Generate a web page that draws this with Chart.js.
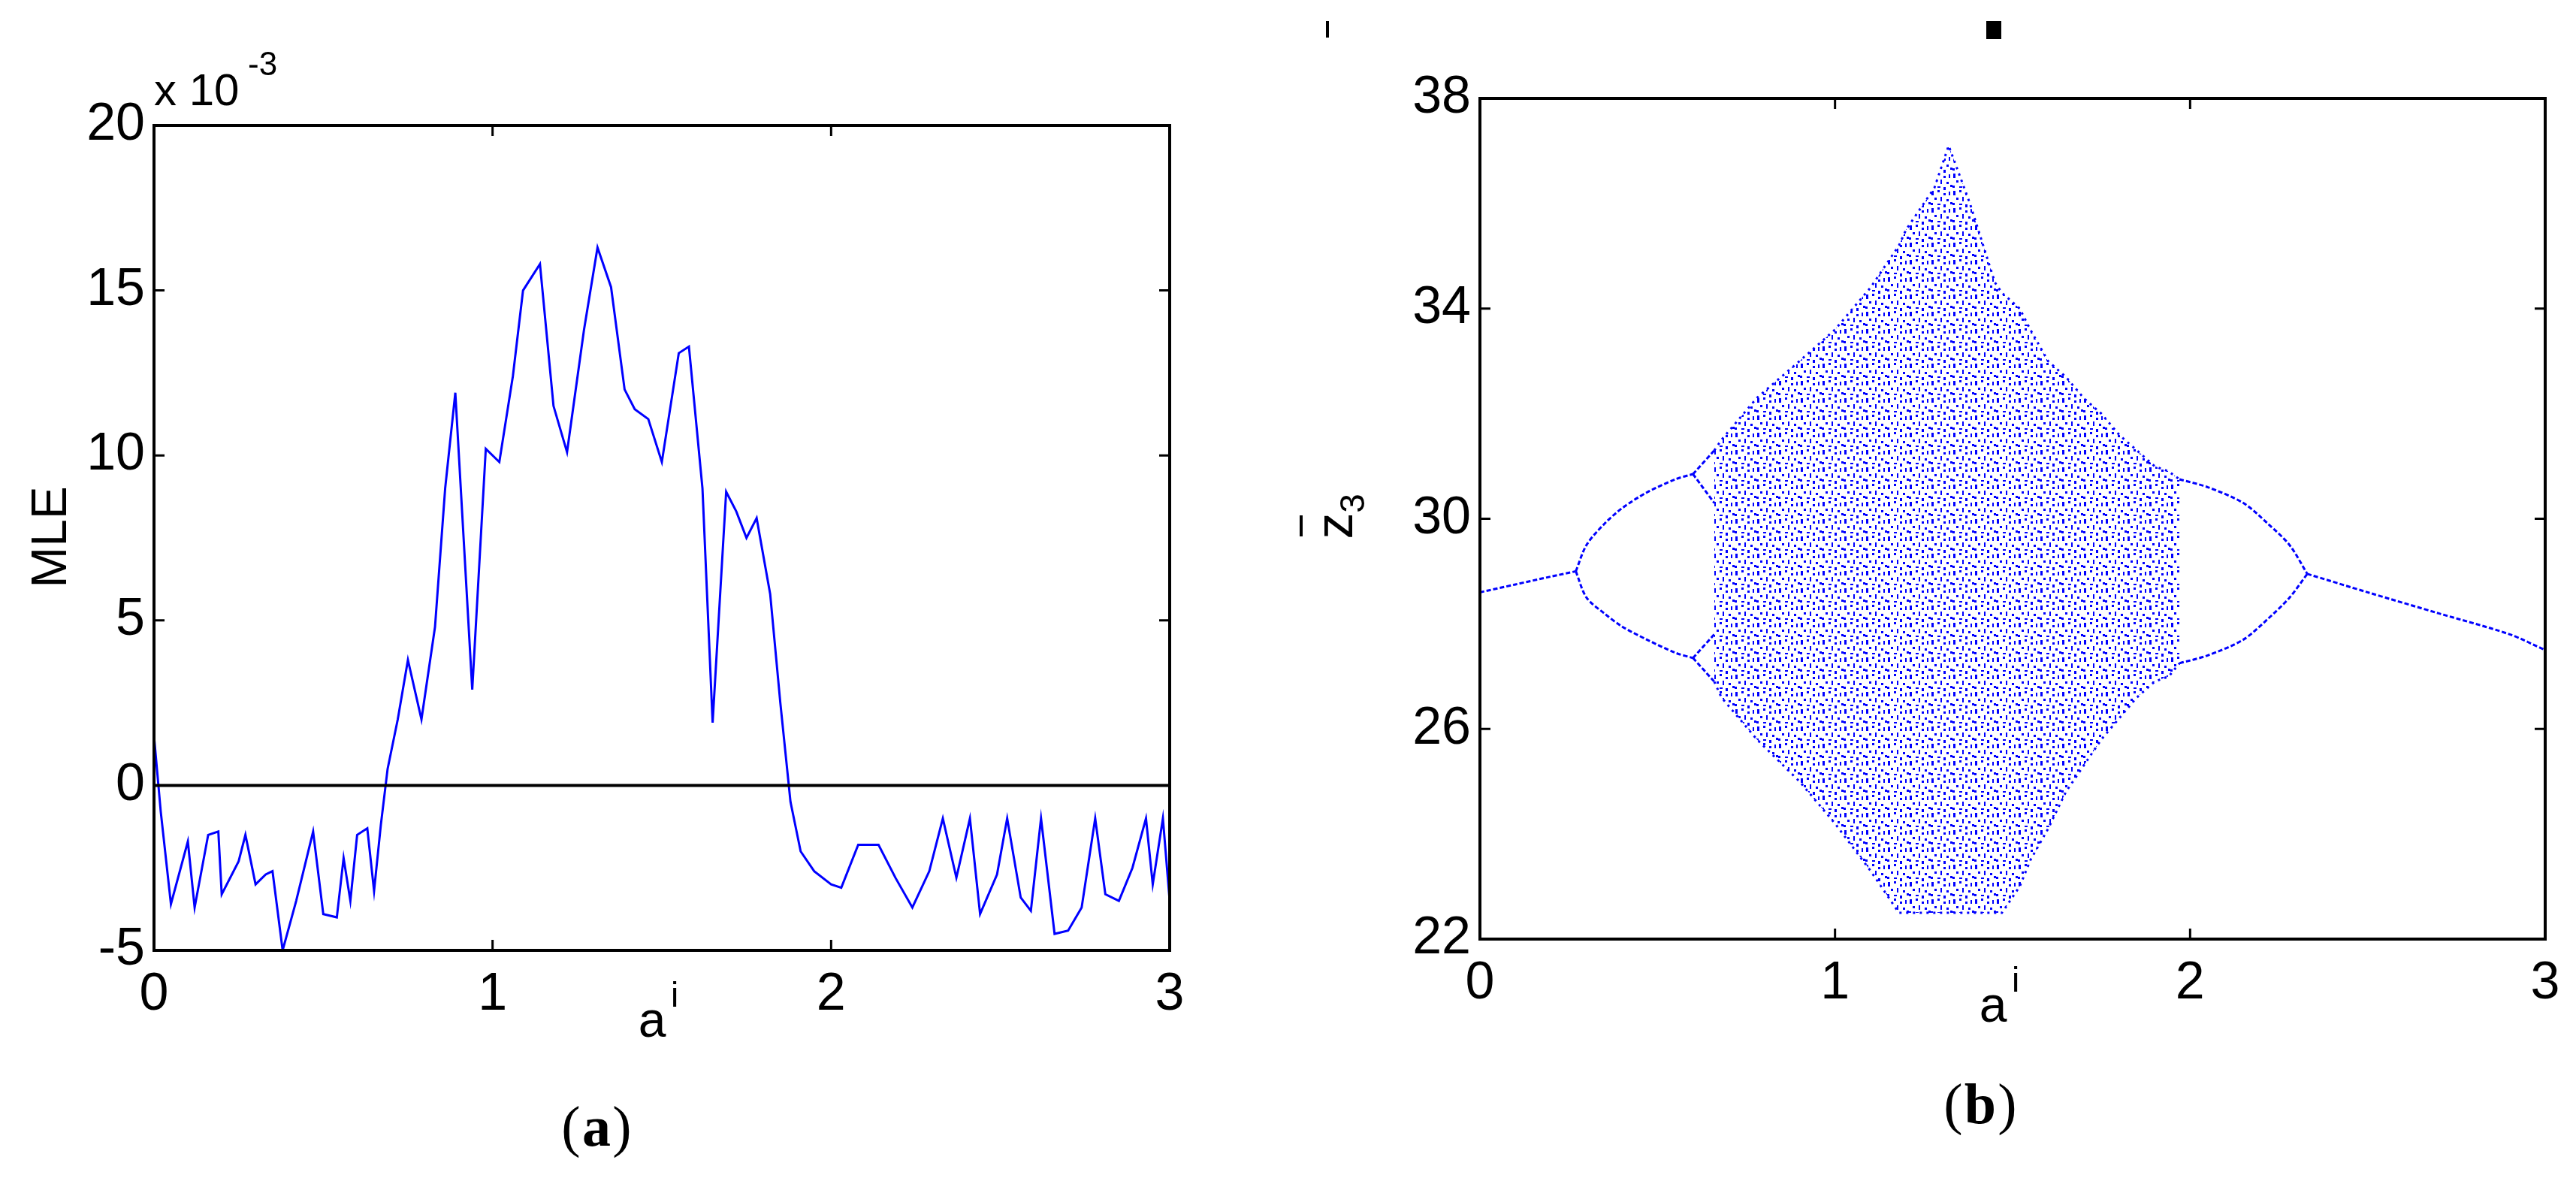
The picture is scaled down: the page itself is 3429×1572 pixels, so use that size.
<!DOCTYPE html>
<html>
<head>
<meta charset="utf-8">
<script src="https://cdn.jsdelivr.net/npm/chart.js"></script>
<style>
  body { margin: 0; background: #fff; width: 3429px; height: 1572px; position: relative; overflow: hidden; }
  canvas { position: absolute; }
  #cA { left: 0; top: 0; }
  #cB { left: 1700px; top: 0; }
</style>
</head>
<body>
<canvas id="cA" width="1600" height="1572"></canvas>
<canvas id="cB" width="1729" height="1572"></canvas>
<script>
// ---------- data: panel (a) MLE vs a^i (units of 1e-3) ----------
const mleX = [0, 0.02, 0.05, 0.1, 0.12, 0.16, 0.19, 0.2, 0.25, 0.27, 0.3, 0.33, 0.35, 0.38, 0.42, 0.47, 0.5, 0.54, 0.56, 0.58,
  0.6, 0.63, 0.65, 0.67, 0.69, 0.72, 0.75, 0.79, 0.83, 0.86, 0.89, 0.94, 0.98, 1.02, 1.06, 1.09, 1.14, 1.18, 1.22, 1.27,
  1.31, 1.35, 1.39, 1.42, 1.46, 1.5, 1.55, 1.58, 1.62, 1.65, 1.69, 1.72, 1.75, 1.78, 1.82, 1.85, 1.88, 1.91, 1.95, 2.0,
  2.03, 2.08, 2.14, 2.19, 2.24, 2.29, 2.33, 2.37, 2.41, 2.44, 2.49, 2.52, 2.56, 2.59, 2.62, 2.66, 2.7, 2.74, 2.78, 2.81,
  2.85, 2.89, 2.93, 2.95, 2.98, 3.0];
const mleY = [1.5, -0.8, -3.6, -1.7, -3.7, -1.5, -1.4, -3.3, -2.3, -1.5, -3.0, -2.7, -2.6, -5.0, -3.5, -1.4, -3.9, -4.0, -2.2, -3.5,
  -1.5, -1.3, -3.2, -1.2, 0.5, 2.0, 3.8, 2.0, 4.8, 9.0, 11.9, 2.9, 10.2, 9.8, 12.4, 15.0, 15.8, 11.5, 10.1, 13.8,
  16.3, 15.1, 12.0, 11.4, 11.1, 9.8, 13.1, 13.3, 9.0, 1.9, 8.9, 8.3, 7.5, 8.1, 5.8, 2.5, -0.5, -2.0, -2.6, -3.0,
  -3.1, -1.8, -1.8, -2.8, -3.7, -2.6, -1.0, -2.8, -1.0, -3.9, -2.7, -1.0, -3.4, -3.8, -1.0, -4.5, -4.4, -3.7, -1.0, -3.3,
  -3.5, -2.5, -1.0, -3.0, -1.0, -3.5];
const ticksA_X = [0, 1, 2, 3];
const ticksA_Y = [-5, 0, 5, 10, 15, 20];

// ---------- data: panel (b) bifurcation of z3 vs a^i ----------
const p1LeftX = [0, 0.1, 0.2, 0.27];
const p1LeftY = [28.6, 28.75, 28.9, 29.0];
const p1RightX = [2.33, 2.5, 2.7, 2.9, 3.0];
const p1RightY = [28.95, 28.6, 28.2, 27.8, 27.5];
const p2LeftX = [0.27, 0.3, 0.35, 0.4, 0.47, 0.55, 0.6];
const p2LeftUpY = [29.0, 29.5, 29.9, 30.2, 30.5, 30.75, 30.85];
const p2LeftLoY = [29.0, 28.5, 28.2, 27.95, 27.7, 27.45, 27.35];
const p2RightX = [1.97, 2.05, 2.15, 2.22, 2.28, 2.33];
const p2RightUpY = [30.75, 30.6, 30.3, 29.9, 29.5, 28.95];
const p2RightLoY = [27.25, 27.4, 27.7, 28.1, 28.5, 28.95];
const p4LeftX = [0.6, 0.66];
const p4LeftA = [30.85, 31.3];
const p4LeftB = [30.85, 30.3];
const p4LeftC = [27.35, 27.8];
const p4LeftD = [27.35, 26.9];
// chaotic band envelope
const chaosX = [0.66, 0.68, 0.78, 0.9, 1.0, 1.1, 1.18, 1.2, 1.28, 1.32, 1.38, 1.45, 1.47, 1.52, 1.55, 1.6, 1.65, 1.7, 1.75, 1.8, 1.85, 1.9, 1.94, 1.97];
const chaosUp = [31.3, 31.5, 32.3, 33.0, 33.6, 34.4, 35.2, 35.5, 36.3, 37.1, 36.0, 34.5, 34.3, 34.0, 33.6, 33.0, 32.7, 32.3, 32.0, 31.6, 31.3, 31.0, 30.9, 30.75];
const chaosLo = [26.9, 26.6, 25.8, 25.0, 24.2, 23.3, 22.5, 22.5, 22.5, 22.5, 22.5, 22.5, 22.5, 23.0, 23.5, 24.1, 24.8, 25.3, 25.8, 26.2, 26.6, 26.9, 27.0, 27.25];
const ticksB_X = [0, 1, 2, 3];
const ticksB_Y = [22, 26, 30, 34, 38];

const BLUE = '#0000ff';
const FONT = '"Liberation Sans", Arial, sans-serif';

const pts = (xs, ys) => xs.map((x, i) => ({ x, y: ys[i] }));

// dotted texture for the chaotic band (styling only)
function dotPattern() {
  const c = document.createElement('canvas');
  c.width = 29; c.height = 23;
  const g = c.getContext('2d');
  g.fillStyle = BLUE;
  [[1, 1, 3, 6], [9, 0, 3, 3], [17, 4, 3, 3], [24, 2, 2, 5], [5, 10, 3, 3], [13, 9, 2, 6],
   [21, 12, 3, 3], [0, 17, 3, 3], [9, 18, 4, 2], [17, 19, 3, 4], [26, 16, 3, 3]].forEach(r => g.fillRect(...r));
  return g.createPattern(c, 'repeat');
}

// Matlab-style box, inward ticks, extra text
function boxPlugin(cfg) {
  return {
    id: 'box' + cfg.id,
    afterDraw(chart) {
      const { ctx, chartArea: a, scales } = chart;
      ctx.save();
      ctx.strokeStyle = '#000';
      ctx.lineWidth = 4;
      ctx.strokeRect(a.left, a.top, a.right - a.left, a.bottom - a.top);
      ctx.lineWidth = 3;
      const tl = 14;
      cfg.xt.forEach(v => {
        const x = scales.x.getPixelForValue(v);
        ctx.beginPath();
        ctx.moveTo(x, a.bottom); ctx.lineTo(x, a.bottom - tl);
        ctx.moveTo(x, a.top); ctx.lineTo(x, a.top + tl);
        ctx.stroke();
      });
      cfg.yt.forEach(v => {
        const y = scales.y.getPixelForValue(v);
        ctx.beginPath();
        ctx.moveTo(a.left, y); ctx.lineTo(a.left + tl, y);
        ctx.moveTo(a.right, y); ctx.lineTo(a.right - tl, y);
        ctx.stroke();
      });
      if (cfg.zeroLine) {
        const y = scales.y.getPixelForValue(0);
        ctx.lineWidth = 4;
        ctx.beginPath(); ctx.moveTo(a.left, y); ctx.lineTo(a.right, y); ctx.stroke();
      }
      ctx.fillStyle = '#000';
      cfg.draw(ctx, a);
      ctx.restore();
    }
  };
}

function axisX(ticks) {
  return {
    type: 'linear', min: 0, max: 3,
    afterBuildTicks: s => { s.ticks = ticks.map(v => ({ value: v })); },
    grid: { display: false, drawTicks: false },
    border: { display: false },
    ticks: { color: '#000', font: { family: FONT, size: 70 }, padding: 18, maxRotation: 0 }
  };
}
function axisY(ticks, min, max, width) {
  return {
    type: 'linear', min, max,
    afterBuildTicks: s => { s.ticks = ticks.map(v => ({ value: v })); },
    afterFit: s => { s.width = width; },
    grid: { display: false, drawTicks: false },
    border: { display: false },
    ticks: { color: '#000', font: { family: FONT, size: 70 }, padding: 12 }
  };
}

// ---------- panel (a) ----------
new Chart(document.getElementById('cA'), {
  type: 'scatter',
  data: {
    datasets: [{
      data: pts(mleX, mleY), showLine: true, borderColor: BLUE, borderWidth: 3,
      pointRadius: 0, tension: 0
    }]
  },
  options: {
    responsive: false, animation: false,
    layout: { padding: { top: 167, right: 43, left: 0, bottom: 0 } },
    plugins: { legend: { display: false }, tooltip: { enabled: false } },
    scales: {
      x: { ...axisX(ticksA_X), afterFit: s => { s.height = 1572 - 1265; } },
      y: axisY(ticksA_Y, -5, 20, 205)
    }
  },
  plugins: [boxPlugin({
    id: 'A', xt: ticksA_X, yt: ticksA_Y, zeroLine: true,
    draw(ctx, a) {
      ctx.font = '60px ' + FONT;
      ctx.textBaseline = 'alphabetic';
      ctx.fillText('x 10', 205, 140);
      ctx.font = '44px ' + FONT;
      ctx.fillText('-3', 330, 100);
      // y title
      ctx.save();
      ctx.translate(88, 715);
      ctx.rotate(-Math.PI / 2);
      ctx.font = '66px ' + FONT;
      ctx.textAlign = 'center';
      ctx.fillText('MLE', 0, 0);
      ctx.restore();
      // x title
      ctx.font = '66px ' + FONT;
      ctx.textAlign = 'center';
      ctx.fillText('a', 868, 1380);
      ctx.font = '46px ' + FONT;
      ctx.fillText('i', 898, 1340);
      // panel label
      ctx.font = '76px "Liberation Serif", serif';
      ctx.fillText('(', 760, 1525);
      ctx.font = 'bold 76px "Liberation Serif", serif';
      ctx.fillText('a', 794, 1525);
      ctx.font = '76px "Liberation Serif", serif';
      ctx.fillText(')', 828, 1525);
    }
  })]
});

// ---------- panel (b) ----------
const line = (xs, ys) => ({
  data: pts(xs, ys), showLine: true, borderColor: BLUE, borderWidth: 3,
  borderDash: [6, 3], pointRadius: 0, tension: 0.3, fill: false
});
new Chart(document.getElementById('cB'), {
  type: 'scatter',
  data: {
    datasets: [
      {
        data: pts(chaosX, chaosUp), showLine: true, borderColor: BLUE, borderWidth: 3,
        borderDash: [3, 6], pointRadius: 0, tension: 0, fill: '+1', backgroundColor: dotPattern()
      },
      {
        data: pts(chaosX, chaosLo), showLine: true, borderColor: BLUE, borderWidth: 3,
        borderDash: [3, 6], pointRadius: 0, tension: 0, fill: false
      },
      line(p1LeftX, p1LeftY), line(p1RightX, p1RightY),
      line(p2LeftX, p2LeftUpY), line(p2LeftX, p2LeftLoY),
      line(p2RightX, p2RightUpY), line(p2RightX, p2RightLoY),
      line(p4LeftX, p4LeftA), line(p4LeftX, p4LeftB), line(p4LeftX, p4LeftC), line(p4LeftX, p4LeftD)
    ]
  },
  options: {
    responsive: false, animation: false,
    layout: { padding: { top: 131, right: 41, left: 0, bottom: 0 } },
    plugins: { legend: { display: false }, tooltip: { enabled: false } },
    scales: {
      x: { ...axisX(ticksB_X), afterFit: s => { s.height = 1572 - 1250; } },
      y: axisY(ticksB_Y, 22, 38, 270)
    }
  },
  plugins: [boxPlugin({
    id: 'B', xt: ticksB_X, yt: ticksB_Y, zeroLine: false,
    draw(ctx, a) {
      const ox = -1700;
      // marks at the top
      ctx.fillRect(1765 + ox, 28, 4, 22);
      ctx.fillRect(2644 + ox, 28, 20, 24);
      // y title: z3 with overbar, rotated
      ctx.save();
      ctx.translate(1800 + ox, 700);
      ctx.rotate(-Math.PI / 2);
      ctx.font = '70px ' + FONT;
      ctx.textAlign = 'center';
      ctx.fillText('z', 0, 0);
      ctx.font = '46px ' + FONT;
      ctx.fillText('3', 30, 16);
      ctx.fillRect(-14, -70, 28, 4);
      ctx.restore();
      // x title
      ctx.font = '66px ' + FONT;
      ctx.textAlign = 'center';
      ctx.fillText('a', 2653 + ox, 1360);
      ctx.font = '46px ' + FONT;
      ctx.fillText('i', 2683 + ox, 1320);
      // panel label
      ctx.font = '76px "Liberation Serif", serif';
      ctx.fillText('(', 2600 + ox, 1495);
      ctx.font = 'bold 76px "Liberation Serif", serif';
      ctx.fillText('b', 2636 + ox, 1495);
      ctx.font = '76px "Liberation Serif", serif';
      ctx.fillText(')', 2672 + ox, 1495);
    }
  })]
});
</script>
</body>
</html>
